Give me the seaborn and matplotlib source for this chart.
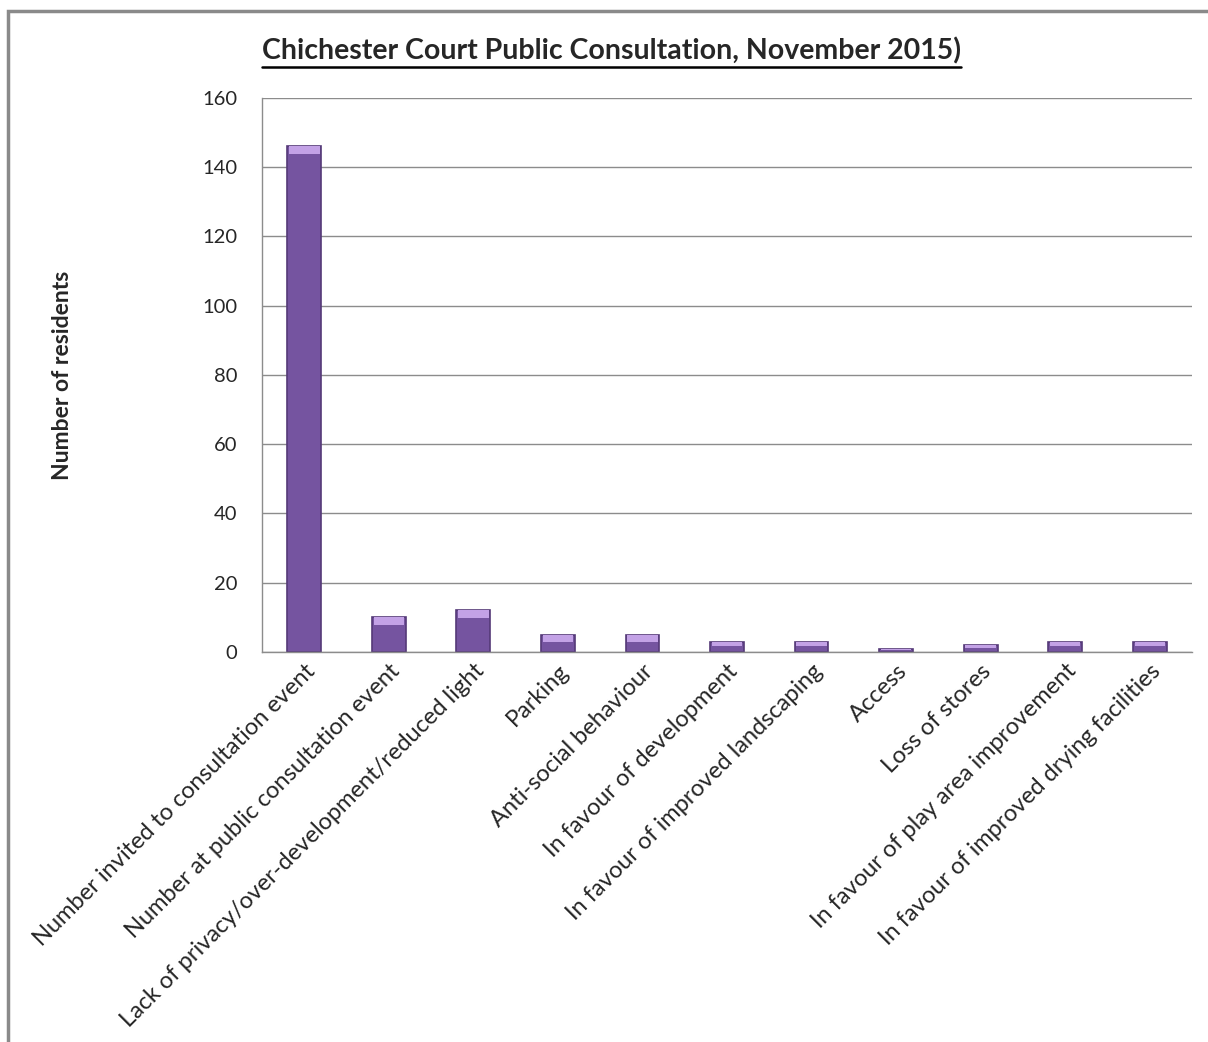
import pandas as pd
import seaborn as sns
import matplotlib.pyplot as plt
from matplotlib.patches import Rectangle

categories = [
    "Number invited to consultation event",
    "Number at public consultation event",
    "Lack of privacy/over-development/reduced light",
    "Parking",
    "Anti-social behaviour",
    "In favour of development",
    "In favour of improved landscaping",
    "Access",
    "Loss of stores",
    "In favour of play area improvement",
    "In favour of improved drying facilities",
]
residents = [146, 10, 12, 5, 5, 3, 3, 1, 2, 3, 3]
y_ticks = [0, 20, 40, 60, 80, 100, 120, 140, 160]

sns.set_theme(style="white")
plt.rcParams['font.family'] = ['Lato', 'DejaVu Sans']

df = pd.DataFrame({"category": categories, "residents": residents})

fig = plt.figure(figsize=(12.08, 10.42), dpi=100)
ax = fig.add_axes([0.2169, 0.3743, 0.7699, 0.5317])

sns.barplot(data=df, x="category", y="residents", color="#7554a0",
            width=0.4, edgecolor="#553a78", linewidth=1.2, saturation=1, ax=ax)

# lighter cap on top of each bar
caps = [min(2.2, v * 0.45) for v in residents]
ax.bar(range(len(categories)), caps, bottom=[v - c for v, c in zip(residents, caps)],
       width=0.36, color="#c3a2e6", linewidth=0, zorder=3)

ax.set_ylim(0, 160)
ax.set_yticks(y_ticks)
ax.set_xlim(-0.5, len(categories) - 0.5)
ax.yaxis.grid(True, color="#8c8c8c", linewidth=1)
ax.set_axisbelow(True)
for s in ["top", "right"]:
    ax.spines[s].set_visible(False)
for s in ["left", "bottom"]:
    ax.spines[s].set_color("#8c8c8c")
    ax.spines[s].set_linewidth(1)

ax.tick_params(axis="y", labelsize=14.5, pad=18, length=0)
ax.tick_params(axis="x", length=0, pad=6)
ax.set_xticks(range(len(categories)))
ax.set_xticklabels(categories, rotation=45, ha="right", rotation_mode="anchor", fontsize=17)
ax.set_xlabel("")
ax.set_ylabel("")
fig.text(0.052, 0.64, "Number of residents", rotation=90, fontsize=16.5, fontweight="bold",
         ha="center", va="center")

title = fig.text(0.506, 0.951, "Chichester Court Public Consultation, November 2015)",
                 fontsize=20.5, fontweight="bold", ha="center", va="center")
fig.canvas.draw()
bb = title.get_window_extent().transformed(fig.transFigure.inverted())
fig.add_artist(plt.Line2D([bb.x0, bb.x1], [bb.y0 - 0.002, bb.y0 - 0.002],
                          transform=fig.transFigure, color="black", linewidth=1.8))

fig.patches.append(Rectangle((0.007, -0.01), 1.2, 1.0 - 0.0105 + 0.01, transform=fig.transFigure,
                             fill=False, edgecolor="#8a8a8a", linewidth=2.5))

fig.savefig("out.png", dpi=100, facecolor="white")
